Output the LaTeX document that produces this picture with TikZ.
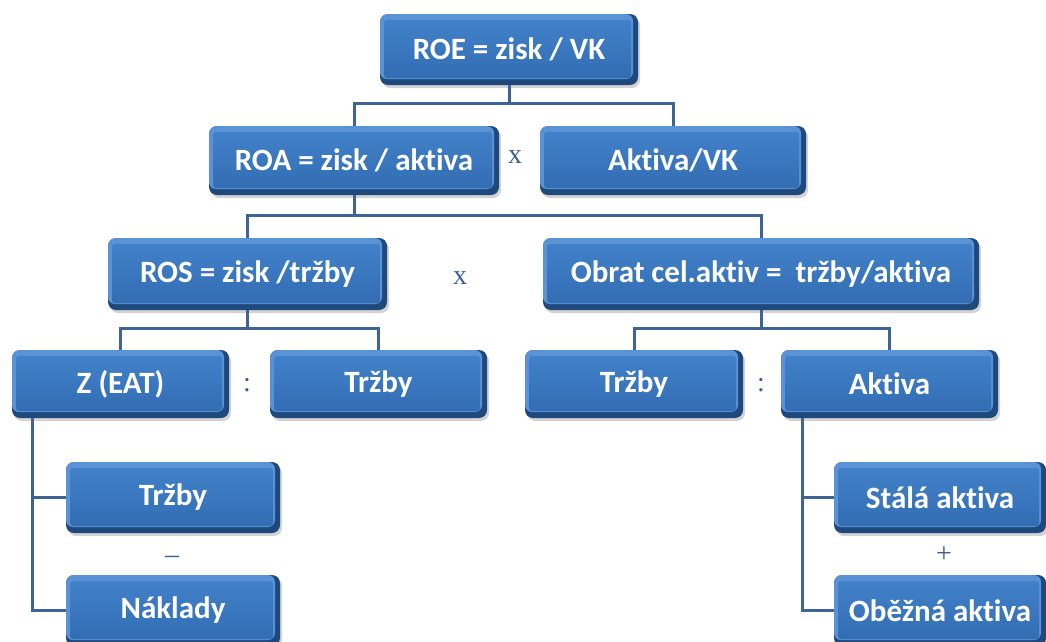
\documentclass[tikz,border=0pt]{standalone}
\usepackage{fontspec}
\setmainfont{Carlito}[Ligatures=NoCommon]
\newfontfamily\opfont{Liberation Serif}
\usetikzlibrary{shadows}
\definecolor{boxedge}{HTML}{1F497D}
\definecolor{boxlight}{HTML}{5A93D5}
\definecolor{boxtop}{HTML}{4181C9}
\definecolor{boxbot}{HTML}{336DB3}
\definecolor{linecol}{HTML}{3D6494}
\definecolor{opcol}{HTML}{3A5F94}
\tikzset{
  box/.style={rectangle, rounded corners=8pt, fill=boxedge, text=white,
    font=\bfseries\fontsize{31}{34}\selectfont, inner sep=0pt,
    drop shadow={shadow xshift=2pt, shadow yshift=-3pt, opacity=0.35},
    path picture={
      \fill[boxlight, rounded corners=7pt] (path picture bounding box.north west)
        rectangle ([shift={(-5pt,6pt)}]path picture bounding box.south east);
      \shade[top color=boxtop, bottom color=boxbot, rounded corners=3pt]
        ([shift={(4pt,-6pt)}]path picture bounding box.north west)
        rectangle ([shift={(-7pt,7pt)}]path picture bounding box.south east);
    }},
  conn/.style={draw=linecol, line width=3pt},
  op/.style={text=opcol, font=\opfont\fontsize{28}{30}\selectfont, inner sep=0pt}
}
\begin{document}
\begin{tikzpicture}[x=1pt,y=-1pt]
\useasboundingbox (0,0) rectangle (1046,641);
% boxes
\node[box, minimum width=258pt, minimum height=71pt] (roe) at (509,49.5) {ROE = zisk / VK};
\node[box, minimum width=290pt, minimum height=69pt] (roa) at (354,160.5) {ROA = zisk / aktiva};
\node[box, minimum width=266pt, minimum height=69pt] (avk) at (673,160.5) {Aktiva/VK};
\node[box, minimum width=279pt, minimum height=72pt] (ros) at (247.5,274) {ROS = zisk /tržby};
\node[box, minimum width=436pt, minimum height=72pt] (obr) at (761,274) {Obrat cel.aktiv =\ \ tržby/aktiva};
\node[box, minimum width=217pt, minimum height=68pt] (zeat) at (120.5,384) {Z (EAT)};
\node[box, minimum width=217pt, minimum height=68pt] (tr1) at (378.5,384) {Tržby};
\node[box, minimum width=218pt, minimum height=68pt] (tr2) at (634,384) {Tržby};
\node[box, minimum width=217pt, minimum height=68pt] (akt) at (889.5,384) {Aktiva};
\node[box, minimum width=214pt, minimum height=71pt] (tr3) at (173,497.5) {Tržby};
\node[box, minimum width=214pt, minimum height=71pt] (nak) at (173,610.5) {Náklady};
\node[box, minimum width=212pt, minimum height=71pt] (sta) at (940,497.5) {Stálá aktiva};
\node[box, minimum width=212pt, minimum height=71pt] (obe) at (940,610.5) {Oběžná aktiva};
% operators
\node[op] (x1) at (515,157) {x};
\node[op] (x2) at (460,278) {x};
\node[op] (d1) at (247,385) {:};
\node[op] (d2) at (761,385) {:};
\node[op] (m1) at (172,560) {–};
\node[op] (p1) at (944,555) {+};
% connectors
\draw[conn] (roe.south) -- ++(0,18) -| (roa.north);
\draw[conn] (roe.south) -- ++(0,18) -| (avk.north);
\draw[conn] (roa.south) -- ++(0,20) -| (ros.north);
\draw[conn] (roa.south) -- ++(0,20) -| (obr.north);
\draw[conn] (ros.south) -- ++(0,18) -| (zeat.north);
\draw[conn] (ros.south) -- ++(0,18) -| (tr1.north);
\draw[conn] (obr.south) -- ++(0,18) -| (tr2.north);
\draw[conn] (obr.south) -- ++(0,18) -| (akt.north);
\coordinate (zl) at ([xshift=21pt]zeat.south west);
\draw[conn] (zl) |- (tr3.west);
\draw[conn] (zl) |- (nak.west);
\coordinate (al) at ([xshift=22pt]akt.south west);
\draw[conn] (al) |- (sta.west);
\draw[conn] (al) |- (obe.west);
\end{tikzpicture}
\end{document}
